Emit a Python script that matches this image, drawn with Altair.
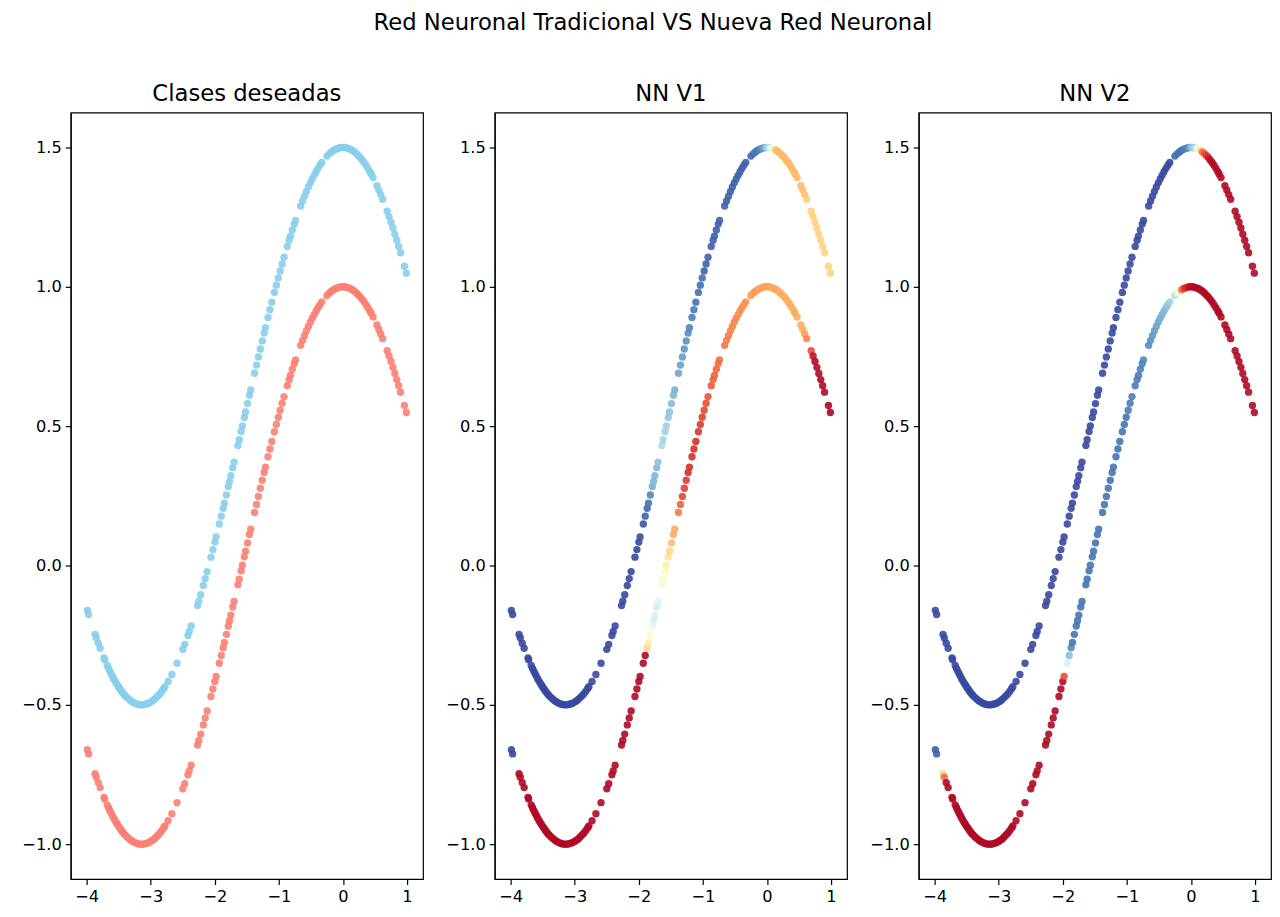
import altair as alt
import pandas as pd

# shared x samples (both curves use the same x positions)
xs = [
    -3.99, -3.97, -3.87, -3.85, -3.82, -3.79, -3.73, -3.72, -3.68, -3.66, -3.64,
    -3.62, -3.60, -3.58, -3.56, -3.54, -3.52, -3.50, -3.48, -3.46, -3.44, -3.42,
    -3.40, -3.37, -3.34, -3.31, -3.28, -3.25, -3.22, -3.19, -3.16, -3.13, -3.10,
    -3.07, -3.04, -3.01, -2.98, -2.95, -2.92, -2.89, -2.86, -2.83, -2.80, -2.78,
    -2.73, -2.67, -2.59, -2.50, -2.47, -2.42, -2.40, -2.37, -2.27, -2.25,
    -2.22, -2.18, -2.15, -2.12, -2.06, -2.03, -2.00, -1.98, -1.93, -1.90,
    -1.87, -1.85, -1.82, -1.79, -1.77, -1.75, -1.72, -1.70, -1.64, -1.62,
    -1.59, -1.57, -1.54, -1.52, -1.49, -1.46, -1.44, -1.38, -1.35, -1.32,
    -1.29, -1.26, -1.23, -1.21, -1.17, -1.14, -1.11, -1.07, -1.04, -1.01,
    -0.98, -0.95, -0.92, -0.87, -0.84, -0.82, -0.79, -0.76, -0.74, -0.66,
    -0.63, -0.60, -0.57, -0.54, -0.51, -0.48, -0.45, -0.42, -0.39, -0.36,
    -0.33, -0.25, -0.21, -0.18, -0.15, -0.12, -0.09, -0.06, -0.03, 0.00,
    0.03, 0.06, 0.09, 0.12, 0.15, 0.18, 0.21, 0.24, 0.27, 0.30,
    0.33, 0.36, 0.39, 0.42, 0.44, 0.47, 0.53, 0.56, 0.59, 0.62,
    0.69, 0.72, 0.75, 0.78, 0.81, 0.84, 0.87, 0.90, 0.96, 0.99,
]

# lower curve (class 1, salmon)
lower_y = [
    -0.661, -0.676, -0.747, -0.760, -0.779, -0.797, -0.832, -0.838, -0.859, -0.869, -0.879,
    -0.888, -0.897, -0.906, -0.914, -0.922, -0.929, -0.937, -0.943, -0.950, -0.956, -0.962,
    -0.967, -0.974, -0.980, -0.986, -0.990, -0.994, -0.997, -0.999, -1.000, -1.000, -0.999,
    -0.997, -0.995, -0.991, -0.987, -0.982, -0.975, -0.968, -0.961, -0.952, -0.942, -0.935,
    -0.916, -0.891, -0.851, -0.801, -0.783, -0.751, -0.737, -0.717, -0.644, -0.628,
    -0.605, -0.572, -0.547, -0.522, -0.470, -0.443, -0.416, -0.398, -0.351, -0.323,
    -0.295, -0.276, -0.247, -0.217, -0.198, -0.178, -0.149, -0.129, -0.069, -0.049,
    -0.019, 0.001, 0.031, 0.051, 0.081, 0.111, 0.130, 0.190, 0.219, 0.248,
    0.277, 0.306, 0.334, 0.353, 0.390, 0.418, 0.445, 0.480, 0.506, 0.532,
    0.557, 0.582, 0.606, 0.645, 0.667, 0.682, 0.704, 0.725, 0.738, 0.790,
    0.808, 0.825, 0.842, 0.858, 0.873, 0.887, 0.900, 0.913, 0.925, 0.936,
    0.946, 0.969, 0.978, 0.984, 0.989, 0.993, 0.996, 0.998, 1.000, 1.000,
    1.000, 0.998, 0.996, 0.993, 0.989, 0.984, 0.978, 0.971, 0.964, 0.955,
    0.946, 0.936, 0.925, 0.913, 0.905, 0.892, 0.863, 0.847, 0.831, 0.814,
    0.771, 0.752, 0.732, 0.711, 0.689, 0.667, 0.645, 0.622, 0.574, 0.549,
]

# upper curve (class 0, skyblue)
upper_y = [
    -0.161, -0.176, -0.247, -0.260, -0.279, -0.297, -0.332, -0.338, -0.359, -0.369, -0.379,
    -0.388, -0.397, -0.406, -0.414, -0.422, -0.429, -0.437, -0.443, -0.450, -0.456, -0.462,
    -0.467, -0.474, -0.480, -0.486, -0.490, -0.494, -0.497, -0.499, -0.500, -0.500, -0.499,
    -0.497, -0.495, -0.491, -0.487, -0.482, -0.475, -0.468, -0.461, -0.452, -0.442, -0.435,
    -0.416, -0.391, -0.351, -0.301, -0.283, -0.251, -0.237, -0.217, -0.144, -0.128,
    -0.105, -0.072, -0.047, -0.022, 0.030, 0.057, 0.084, 0.102, 0.149, 0.177,
    0.205, 0.224, 0.253, 0.283, 0.302, 0.322, 0.351, 0.371, 0.431, 0.451,
    0.481, 0.501, 0.531, 0.551, 0.581, 0.611, 0.630, 0.690, 0.719, 0.748,
    0.777, 0.806, 0.834, 0.853, 0.890, 0.918, 0.945, 0.980, 1.006, 1.032,
    1.057, 1.082, 1.106, 1.145, 1.167, 1.182, 1.204, 1.225, 1.238, 1.290,
    1.308, 1.325, 1.342, 1.358, 1.373, 1.387, 1.400, 1.413, 1.425, 1.436,
    1.446, 1.469, 1.478, 1.484, 1.489, 1.493, 1.496, 1.498, 1.500, 1.500,
    1.500, 1.498, 1.496, 1.493, 1.489, 1.484, 1.478, 1.471, 1.464, 1.455,
    1.446, 1.436, 1.425, 1.413, 1.405, 1.392, 1.363, 1.347, 1.331, 1.314,
    1.271, 1.252, 1.232, 1.211, 1.189, 1.167, 1.145, 1.122, 1.074, 1.049,
]

# NN V1 outputs (0 = red, 1 = blue)
v1_upper = [
    0.97, 0.97, 0.97, 0.97, 0.97, 0.97, 0.97, 0.97, 0.97, 0.97, 0.97,
    0.97, 0.97, 0.97, 0.97, 0.97, 0.97, 0.97, 0.97, 0.97, 0.97, 0.97,
    0.97, 0.97, 0.97, 0.97, 0.97, 0.97, 0.97, 0.97, 0.97, 0.97, 0.97,
    0.97, 0.97, 0.97, 0.97, 0.97, 0.97, 0.97, 0.97, 0.97, 0.97, 0.97,
    0.97, 0.97, 0.97, 0.97, 0.97, 0.97, 0.97, 0.97, 0.97, 0.97,
    0.97, 0.97, 0.97, 0.97, 0.97, 0.97, 0.97, 0.96, 0.95, 0.93,
    0.92, 0.90, 0.87, 0.80, 0.78, 0.78, 0.77, 0.75, 0.70, 0.71,
    0.72, 0.72, 0.74, 0.75, 0.77, 0.78, 0.79, 0.81, 0.82, 0.83,
    0.84, 0.85, 0.86, 0.87, 0.88, 0.89, 0.90, 0.91, 0.91, 0.91,
    0.93, 0.93, 0.93, 0.93, 0.93, 0.93, 0.93, 0.93, 0.93, 0.93,
    0.93, 0.93, 0.93, 0.93, 0.93, 0.93, 0.93, 0.93, 0.93, 0.93,
    0.93, 0.92, 0.91, 0.90, 0.89, 0.88, 0.86, 0.84, 0.78, 0.72,
    0.68, 0.60, 0.50, 0.40, 0.33, 0.32, 0.32, 0.32, 0.32, 0.32,
    0.32, 0.32, 0.32, 0.32, 0.32, 0.32, 0.33, 0.33, 0.34, 0.36,
    0.37, 0.37, 0.37, 0.37, 0.37, 0.37, 0.37, 0.37, 0.37, 0.37,
]
v1_lower = [
    0.97, 0.97, 0.02, 0.02, 0.02, 0.02, 0.02, 0.02, 0.02, 0.02, 0.02,
    0.02, 0.02, 0.02, 0.02, 0.02, 0.02, 0.02, 0.02, 0.02, 0.02, 0.02,
    0.02, 0.02, 0.02, 0.02, 0.02, 0.02, 0.02, 0.02, 0.02, 0.02, 0.02,
    0.02, 0.02, 0.02, 0.02, 0.02, 0.02, 0.02, 0.02, 0.02, 0.02, 0.02,
    0.02, 0.02, 0.02, 0.02, 0.02, 0.02, 0.02, 0.02, 0.02, 0.02,
    0.02, 0.02, 0.02, 0.02, 0.02, 0.02, 0.02, 0.02, 0.02, 0.02,
    0.38, 0.45, 0.50, 0.58, 0.62, 0.62, 0.63, 0.60, 0.55, 0.52,
    0.48, 0.45, 0.42, 0.38, 0.33, 0.30, 0.29, 0.22, 0.18, 0.14,
    0.13, 0.12, 0.10, 0.10, 0.10, 0.10, 0.10, 0.11, 0.12, 0.13,
    0.14, 0.15, 0.16, 0.17, 0.18, 0.18, 0.19, 0.20, 0.20, 0.21,
    0.22, 0.22, 0.23, 0.23, 0.24, 0.24, 0.25, 0.25, 0.25, 0.26,
    0.26, 0.27, 0.27, 0.27, 0.28, 0.28, 0.28, 0.28, 0.28, 0.28,
    0.28, 0.29, 0.29, 0.29, 0.29, 0.30, 0.30, 0.30, 0.30, 0.30,
    0.30, 0.30, 0.30, 0.30, 0.30, 0.30, 0.30, 0.30, 0.28, 0.24,
    0.15, 0.04, 0.02, 0.02, 0.02, 0.02, 0.02, 0.02, 0.01, 0.01,
]

# NN V2 outputs
v2_upper = [
    0.97, 0.97, 0.97, 0.97, 0.97, 0.97, 0.97, 0.97, 0.97, 0.97, 0.97,
    0.97, 0.97, 0.97, 0.97, 0.97, 0.97, 0.97, 0.97, 0.97, 0.97, 0.97,
    0.97, 0.97, 0.97, 0.97, 0.97, 0.97, 0.97, 0.97, 0.97, 0.97, 0.97,
    0.97, 0.97, 0.97, 0.97, 0.97, 0.97, 0.97, 0.97, 0.97, 0.97, 0.97,
    0.97, 0.97, 0.97, 0.97, 0.97, 0.97, 0.97, 0.97, 0.97, 0.97,
    0.97, 0.97, 0.97, 0.97, 0.97, 0.97, 0.97, 0.97, 0.97, 0.97,
    0.97, 0.97, 0.97, 0.97, 0.97, 0.97, 0.97, 0.97, 0.97, 0.97,
    0.97, 0.97, 0.97, 0.97, 0.97, 0.97, 0.97, 0.97, 0.97, 0.97,
    0.97, 0.97, 0.97, 0.97, 0.97, 0.97, 0.97, 0.97, 0.97, 0.97,
    0.97, 0.97, 0.97, 0.97, 0.97, 0.97, 0.97, 0.97, 0.97, 0.97,
    0.97, 0.97, 0.97, 0.97, 0.97, 0.97, 0.97, 0.97, 0.97, 0.97,
    0.97, 0.92, 0.91, 0.90, 0.90, 0.89, 0.88, 0.87, 0.84, 0.77,
    0.73, 0.70, 0.60, 0.50, 0.40, 0.20, 0.17, 0.12, 0.08, 0.04,
    0.02, 0.02, 0.02, 0.02, 0.02, 0.02, 0.02, 0.02, 0.02, 0.02,
    0.02, 0.02, 0.02, 0.02, 0.02, 0.02, 0.02, 0.02, 0.02, 0.02,
]
v2_lower = [
    0.93, 0.93, 0.38, 0.20, 0.02, 0.02, 0.02, 0.02, 0.02, 0.02, 0.02,
    0.02, 0.02, 0.02, 0.02, 0.02, 0.02, 0.02, 0.02, 0.02, 0.02, 0.02,
    0.02, 0.02, 0.02, 0.02, 0.02, 0.02, 0.02, 0.02, 0.02, 0.02, 0.02,
    0.02, 0.02, 0.02, 0.02, 0.02, 0.02, 0.02, 0.02, 0.02, 0.02, 0.02,
    0.02, 0.02, 0.02, 0.02, 0.02, 0.02, 0.02, 0.02, 0.02, 0.02,
    0.02, 0.02, 0.02, 0.02, 0.02, 0.02, 0.02, 0.15, 0.62, 0.76,
    0.86, 0.90, 0.90, 0.90, 0.90, 0.90, 0.90, 0.90, 0.90, 0.90,
    0.90, 0.90, 0.90, 0.90, 0.90, 0.90, 0.90, 0.90, 0.90, 0.90,
    0.90, 0.90, 0.90, 0.90, 0.90, 0.90, 0.90, 0.90, 0.90, 0.90,
    0.89, 0.89, 0.89, 0.89, 0.89, 0.89, 0.88, 0.88, 0.87, 0.86,
    0.85, 0.84, 0.83, 0.82, 0.81, 0.80, 0.79, 0.78, 0.76, 0.74,
    0.72, 0.68, 0.60, 0.50, 0.25, 0.15, 0.10, 0.08, 0.05, 0.03,
    0.02, 0.02, 0.02, 0.02, 0.02, 0.02, 0.02, 0.02, 0.02, 0.02,
    0.02, 0.02, 0.02, 0.02, 0.02, 0.02, 0.02, 0.02, 0.02, 0.02,
    0.02, 0.02, 0.02, 0.02, 0.02, 0.02, 0.02, 0.02, 0.02, 0.02,
]

x_ticks = [-4, -3, -2, -1, 0, 1]
y_ticks = [-1.0, -0.5, 0.0, 0.5, 1.0, 1.5]
panel_titles = ["Clases deseadas", "NN V1", "NN V2"]
main_title = "Red Neuronal Tradicional VS Nueva Red Neuronal"

rows = []
for i, xv in enumerate(xs):
    rows.append({"x": xv, "y": upper_y[i], "curve": "upper", "p1": v1_upper[i], "p2": v2_upper[i]})
    rows.append({"x": xv, "y": lower_y[i], "curve": "lower", "p1": v1_lower[i], "p2": v2_lower[i]})
df = pd.DataFrame(rows)

FONT = "DejaVu Sans"
TITLE_SIZE = 22.8
LABEL_SIZE = 16.3
RDYLBU = ["#a50026", "#d73027", "#f46d43", "#fdae61", "#fee090", "#ffffbf",
          "#e0f3f8", "#abd9e9", "#74add1", "#4575b4", "#313695"]
STOPS = [0.0, 0.1, 0.2, 0.3, 0.4, 0.5, 0.6, 0.7, 0.8, 0.9, 1.0]

W, H = 354, 770


def panel(title, color, extent):
    return alt.Chart(df, title=alt.TitleParams(
        title, fontSize=TITLE_SIZE, font=FONT, fontWeight="normal", color="black", offset=7
    )).mark_circle(size=55, opacity=0.9).encode(
        x=alt.X("x:Q", scale=alt.Scale(domain=[-4.25, 1.25], nice=False, zero=False),
                axis=alt.Axis(values=x_ticks, format="d", title=None)),
        y=alt.Y("y:Q", scale=alt.Scale(domain=[-1.125, 1.625], nice=False, zero=False),
                axis=alt.Axis(values=y_ticks, format=".1f", title=None,
                              minExtent=extent, maxExtent=extent)),
        color=color,
    ).properties(width=W, height=H)


c1 = panel(panel_titles[0],
           alt.Color("curve:N", scale=alt.Scale(domain=["upper", "lower"],
                                                range=["#87ceeb", "#fa8072"]), legend=None), 62)
c2 = panel(panel_titles[1],
           alt.Color("p1:Q", scale=alt.Scale(type="linear", domain=STOPS, range=RDYLBU,
                                             interpolate="rgb"), legend=None), 57)
c3 = panel(panel_titles[2],
           alt.Color("p2:Q", scale=alt.Scale(type="linear", domain=STOPS, range=RDYLBU,
                                             interpolate="rgb"), legend=None), 57)

chart = alt.hconcat(c1, c2, c3, spacing=13).properties(
    title=alt.TitleParams(main_title, fontSize=TITLE_SIZE, font=FONT, fontWeight="normal",
                          color="black", anchor="middle", offset=48, dx=13),
    padding={"left": 0, "top": 1, "right": 0, "bottom": 0},
    background="white",
).configure_view(
    stroke="black", strokeWidth=1.2
).configure_axis(
    grid=False, labelFont=FONT, labelFontSize=LABEL_SIZE, labelColor="black",
    tickColor="black", tickSize=5.5, tickWidth=1.2, domainColor="black",
    domainWidth=1.2, labelPadding=4,
)

chart.save("out.html", embed_options={"renderer": "svg", "actions": False})
